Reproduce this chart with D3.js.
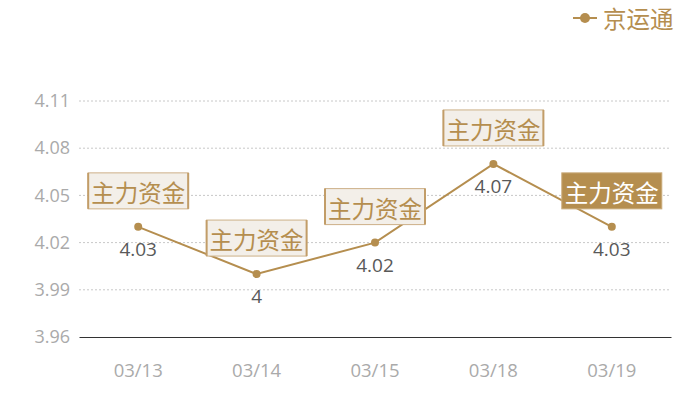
<!DOCTYPE html>
<html>
<head>
<meta charset="utf-8">
<script src="https://cdn.jsdelivr.net/npm/d3@7"></script>
<style>
  body { margin: 0; background: #fff; }
  svg { display: block; font-family: "Noto Sans CJK SC", "Noto Sans", sans-serif; }
</style>
</head>
<body>
<svg id="chart" width="700" height="400"></svg>
<script>
const dates = ['03/13', '03/14', '03/15', '03/18', '03/19'];
const prices = [4.03, 4.00, 4.02, 4.07, 4.03];
const valueLabels = ['4.03', '4', '4.02', '4.07', '4.03'];
const yTicks = [3.96, 3.99, 4.02, 4.05, 4.08, 4.11];
const seriesName = '京运通';
const markText = '主力资金';
const highlightIndex = 4;

const gold = '#b58e4f';
const margin = { top: 101, right: 29, bottom: 63, left: 79 };
const W = 700, H = 400;
const numFont = '"Open Sans", "Noto Sans", sans-serif';

const svg = d3.select('#chart');

const x = d3.scaleBand()
  .domain(dates)
  .range([margin.left, W - margin.right]);

const y = d3.scaleLinear()
  .domain([3.96, 4.11])
  .range([H - margin.bottom, margin.top]);

const cx = d => x(d) + x.bandwidth() / 2;

// grid lines
svg.append('g')
  .selectAll('line')
  .data(yTicks.slice(1))
  .enter().append('line')
  .attr('x1', margin.left)
  .attr('x2', W - margin.right)
  .attr('y1', d => y(d))
  .attr('y2', d => y(d))
  .attr('stroke', '#c8c8c8')
  .attr('stroke-dasharray', '2,2');

// y axis labels
svg.append('g')
  .call(d3.axisLeft(y).tickValues(yTicks).tickSize(0).tickPadding(9).tickFormat(d3.format('.2f')))
  .attr('transform', `translate(${margin.left},0)`)
  .call(g => g.select('.domain').remove())
  .selectAll('text')
  .attr('fill', '#aaa')
  .style('font-size', '18px')
  .style('font-family', numFont);

// x axis
svg.append('g')
  .attr('transform', `translate(0,${H - margin.bottom})`)
  .call(d3.axisBottom(x).tickSize(0).tickPadding(27))
  .call(g => g.select('.domain').attr('stroke', '#333').attr('stroke-width', 1.2))
  .selectAll('text')
  .attr('fill', '#aaa')
  .style('font-size', '18.5px')
  .style('font-family', numFont);

// line
const line = d3.line()
  .x((d, i) => cx(dates[i]))
  .y(d => y(d));

svg.append('path')
  .datum(prices)
  .attr('fill', 'none')
  .attr('stroke', gold)
  .attr('stroke-width', 2)
  .attr('d', line);

svg.append('g')
  .selectAll('circle')
  .data(prices)
  .enter().append('circle')
  .attr('cx', (d, i) => cx(dates[i]))
  .attr('cy', d => y(d))
  .attr('r', 4)
  .attr('fill', gold);

// value labels
svg.append('g')
  .selectAll('text')
  .data(prices)
  .enter().append('text')
  .attr('x', (d, i) => cx(dates[i]))
  .attr('y', d => y(d) + 29)
  .attr('text-anchor', 'middle')
  .attr('fill', '#595959')
  .style('font-size', '19px')
  .style('font-family', numFont)
  .text((d, i) => valueLabels[i]);

// mark boxes
const boxW = 100, boxH = 36;
const marks = svg.append('g')
  .selectAll('g')
  .data(prices)
  .enter().append('g')
  .attr('transform', (d, i) => `translate(${cx(dates[i]) - boxW / 2},${y(d) - 18 - boxH})`);

marks.append('rect')
  .attr('width', boxW)
  .attr('height', boxH)
  .attr('fill', (d, i) => i === highlightIndex ? gold : '#f3efe9')
  .attr('stroke', (d, i) => i === highlightIndex ? '#c9aa7a' : '#cdb088')
  .attr('stroke-width', 1);

marks.filter((d, i) => i !== highlightIndex)
  .selectAll('line.side')
  .data([0, boxW])
  .enter().append('line')
  .attr('class', 'side')
  .attr('x1', d => d).attr('x2', d => d)
  .attr('y1', 0).attr('y2', boxH)
  .attr('stroke', '#c29d68')
  .attr('stroke-width', 2);

marks.append('text')
  .attr('x', boxW / 2)
  .attr('y', boxH / 2 + 1)
  .attr('text-anchor', 'middle')
  .attr('dominant-baseline', 'central')
  .attr('fill', (d, i) => i === highlightIndex ? '#fff' : gold)
  .style('font-size', '23.5px')
  .text(markText);

// legend
const legend = svg.append('g').attr('transform', 'translate(573,18)');
legend.append('line')
  .attr('x1', 0).attr('x2', 24)
  .attr('stroke', gold).attr('stroke-width', 2);
legend.append('circle')
  .attr('cx', 12).attr('r', 5).attr('fill', gold);
legend.append('text')
  .attr('x', 30)
  .attr('dominant-baseline', 'central')
  .attr('fill', gold)
  .style('font-size', '23.5px')
  .text(seriesName);
</script>
</body>
</html>
